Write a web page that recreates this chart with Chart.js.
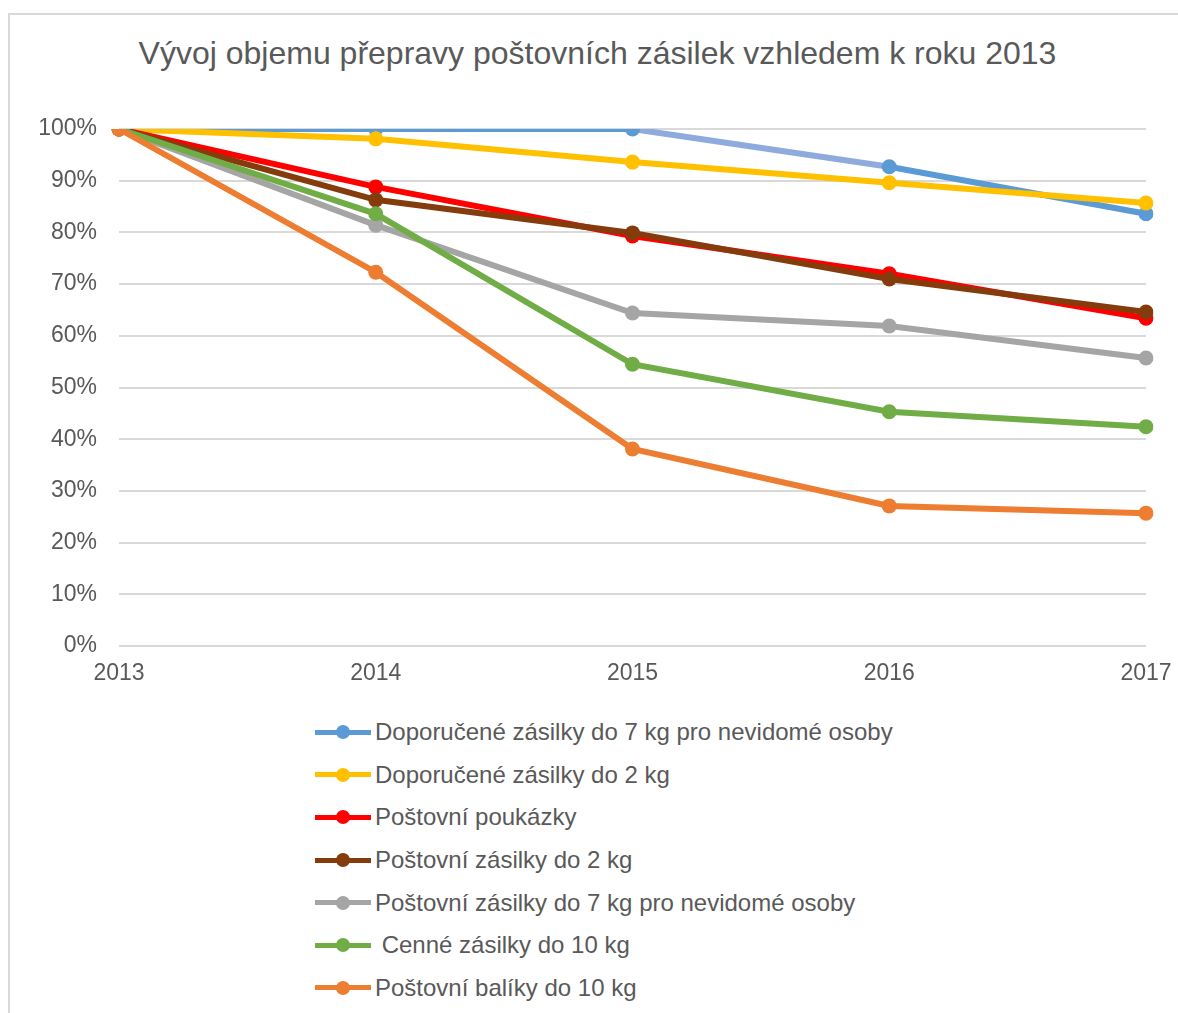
<!DOCTYPE html>
<html lang="cs">
<head>
<meta charset="utf-8">
<title>Vývoj objemu přepravy poštovních zásilek</title>
<script src="https://cdn.jsdelivr.net/npm/chart.js@4/dist/chart.umd.min.js"></script>
<style>
    html, body { margin: 0; padding: 0; background: #fff; }
    #wrap { position: relative; width: 1178px; height: 1013px; overflow: hidden; }
    #frame {
        position: absolute; left: 8px; top: 13px; right: -4px; bottom: -4px;
        border-top: 2px solid #d9d9d9; border-left: 2px solid #d9d9d9;
    }
    #title {
        position: absolute; left: 0; top: 34px; width: 1195px; text-align: center;
        font-family: "Liberation Sans", Arial, sans-serif; font-size: 32px; line-height: 38px;
        color: #595959; white-space: nowrap;
    }
    #chart-box { position: absolute; left: 0; top: 0; width: 1178px; height: 700px; }
    #legend {
        position: absolute; left: 315px; top: 711px;
        font-family: "Liberation Sans", Arial, sans-serif; font-size: 24px; color: #595959;
    }
    .item { height: 42.6px; display: flex; align-items: center; white-space: pre; }
    .mark { position: relative; width: 56px; height: 5px; margin-right: 4px; }
    .dot { position: absolute; left: 21px; top: -4.5px; width: 14px; height: 14px; border-radius: 50%; }
</style>
</head>
<body>
<div id="wrap">
    <div id="frame"></div>
    <div id="title">Vývoj objemu přepravy poštovních zásilek vzhledem k roku 2013</div>
    <div id="chart-box"><canvas id="chart"></canvas></div>
    <div id="legend"></div>
</div>
<script>
(function (Chart) {
    "use strict";

    var years = ["2013", "2014", "2015", "2016", "2017"];
    var yTicks = [0, 10, 20, 30, 40, 50, 60, 70, 80, 90, 100];

    var seriesNames = [
        "Doporučené zásilky do 7 kg pro nevidomé osoby",
        "Doporučené zásilky do 2 kg",
        "Poštovní poukázky",
        "Poštovní zásilky do 2 kg",
        "Poštovní zásilky do 7 kg pro nevidomé osoby",
        " Cenné zásilky do 10 kg",
        "Poštovní balíky do 10 kg"
    ];
    var seriesColors = ["#5b9bd5", "#ffc000", "#ff0000", "#843c0c", "#a5a5a5", "#70ad47", "#ed7d31"];

    // values in % of 2013
    var doporuceneNevidome = [100, 100, 100, 92.7, 83.6];
    var doporucene2kg = [100, 98.1, 93.6, 89.6, 85.7];
    var poukazky = [100, 88.8, 79.3, 72.0, 63.4];
    var zasilky2kg = [100, 86.3, 79.9, 71.0, 64.6];
    var zasilkyNevidome = [100, 81.4, 64.4, 61.9, 55.7];
    var cenne10kg = [100, 83.6, 54.5, 45.3, 42.4];
    var baliky10kg = [100, 72.3, 38.1, 27.1, 25.7];

    var seriesValues = [doporuceneNevidome, doporucene2kg, poukazky, zasilky2kg,
        zasilkyNevidome, cenne10kg, baliky10kg];

    var FONT = "'Liberation Sans', Arial, sans-serif";
    var TEXT = "#595959";

    function buildDatasets () {
        return seriesValues.map(function (values, i) {
            var ds = {
                label: seriesNames[i],
                data: values,
                borderColor: seriesColors[i],
                backgroundColor: seriesColors[i],
                borderWidth: 6,
                pointRadius: 7.5,
                pointHoverRadius: 7.5,
                pointBorderWidth: 0,
                tension: 0,
                order: seriesValues.length - i  // later series on top, like Excel
            };
            if (i === 0) {
                // the 2015-2016 segment is lighter in the original
                ds.segment = {
                    borderColor: function (ctx) {
                        return ctx.p0DataIndex === 2 ? "#8faadc" : undefined;
                    }
                };
            }
            return ds;
        });
    }

    function buildLegend () {
        var box = document.getElementById("legend");
        seriesNames.forEach(function (name, i) {
            var row = document.createElement("div"),
                mark = document.createElement("span"),
                dot = document.createElement("span"),
                text = document.createElement("span");
            row.className = "item";
            mark.className = "mark";
            dot.className = "dot";
            mark.style.background = seriesColors[i];
            dot.style.background = seriesColors[i];
            mark.appendChild(dot);
            text.textContent = name;
            row.appendChild(mark);
            row.appendChild(text);
            box.appendChild(row);
        });
    }

    new Chart(document.getElementById("chart"), {
        type: "line",
        data: { labels: years, datasets: buildDatasets() },
        options: {
            responsive: true,
            maintainAspectRatio: false,
            animation: false,
            layout: { padding: { left: 9, right: 32, top: 129, bottom: 14 } },
            plugins: {
                legend: { display: false },
                tooltip: { enabled: false }
            },
            scales: {
                x: {
                    offset: false,
                    grid: { display: false, drawTicks: false },
                    border: { display: false },
                    ticks: { color: TEXT, font: { family: FONT, size: 23 }, padding: 14, maxRotation: 0 },
                    afterFit: function (scale) {
                        scale.height = 40;
                        // let the layout padding decide the plot edges, not the label widths
                        scale.paddingLeft = 0;
                        scale.paddingRight = 0;
                    }
                },
                y: {
                    min: 0,
                    max: 100,
                    afterBuildTicks: function (scale) {
                        scale.ticks = yTicks.map(function (v) { return { value: v }; });
                    },
                    grid: { color: "#d9d9d9", lineWidth: 2, drawTicks: false },
                    border: { display: false },
                    ticks: {
                        color: TEXT,
                        font: { family: FONT, size: 23 },
                        padding: 22,
                        callback: function (v) { return v + "%"; }
                    },
                    afterFit: function (scale) {
                        scale.width = 110;
                        scale.paddingTop = 0;
                        scale.paddingBottom = 0;
                    }
                }
            }
        }
    });

    buildLegend();
})(Chart);
</script>
</body>
</html>
